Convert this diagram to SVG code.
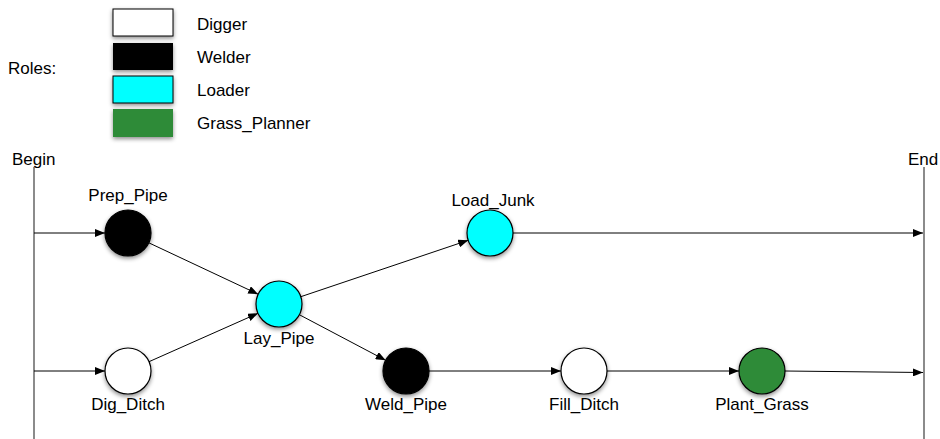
<svg xmlns="http://www.w3.org/2000/svg" width="940" height="439" viewBox="0 0 940 439">
<style>
text{font-family:"Liberation Sans",Arial,Helvetica,sans-serif;font-size:17px;fill:#000}
.lbl{text-anchor:middle}
.node{stroke:#000;stroke-width:1.2}
.edge{stroke:#000;stroke-width:1;fill:none;marker-end:url(#arr)}
.bar{stroke:#6e6e6e;stroke-width:1.6}
</style>
<defs>
<filter id="sh" x="-50%" y="-50%" width="200%" height="200%">
<feDropShadow dx="0" dy="2" stdDeviation="2" flood-color="#000" flood-opacity="0.45"/>
</filter>
<marker id="arr" markerUnits="userSpaceOnUse" markerWidth="11" markerHeight="8" refX="10" refY="4" orient="auto">
<path d="M0,0 L10,4 L0,8 z" fill="#000"/>
</marker>
</defs>
<g id="legend">
<text x="8" y="74">Roles:</text>
<rect x="113" y="9" width="60" height="27" fill="#fff" stroke="#000" stroke-width="1" filter="url(#sh)"/>
<text x="197" y="30">Digger</text>
<rect x="113" y="43" width="60" height="27" fill="#000" filter="url(#sh)"/>
<text x="197" y="63">Welder</text>
<rect x="113" y="76" width="60" height="27" fill="#00ffff" stroke="#000" stroke-width="1" filter="url(#sh)"/>
<text x="197" y="96">Loader</text>
<rect x="113" y="109" width="60" height="28" fill="#2e8b37" filter="url(#sh)"/>
<text x="197" y="129">Grass_Planner</text>
</g>
<g id="begin">
<line class="bar" x1="34" y1="167" x2="34" y2="439"/>
<text x="12" y="165">Begin</text>
</g>
<g id="end">
<line class="bar" x1="924" y1="167" x2="924" y2="439"/>
<text x="908" y="165">End</text>
</g>
<g id="connectors">
<line class="edge" x1="34" y1="233" x2="105" y2="233"/>
<line class="edge" x1="34" y1="371" x2="105" y2="371"/>
<line class="edge" x1="148.8" y1="242.8" x2="258.2" y2="294.2"/>
<line class="edge" x1="149" y1="361.7" x2="258" y2="313.3"/>
<line class="edge" x1="300.8" y1="296.7" x2="468.2" y2="240.3"/>
<line class="edge" x1="299.3" y1="314.7" x2="385.7" y2="360.3"/>
<line class="edge" x1="429" y1="371" x2="561" y2="371"/>
<line class="edge" x1="607" y1="371" x2="739" y2="371"/>
<line class="edge" x1="513" y1="233" x2="923" y2="233"/>
<line class="edge" x1="785" y1="371" x2="923" y2="372.5"/>
</g>
<g id="Prep_Pipe">
<circle class="node" cx="128" cy="233" r="23" fill="#000" filter="url(#sh)"/>
<text class="lbl" x="128" y="201">Prep_Pipe</text>
</g>
<g id="Dig_Ditch">
<circle class="node" cx="128" cy="371" r="23" fill="#fff" filter="url(#sh)"/>
<text class="lbl" x="128" y="410">Dig_Ditch</text>
</g>
<g id="Lay_Pipe">
<circle class="node" cx="279" cy="304" r="23" fill="#00ffff" filter="url(#sh)"/>
<text class="lbl" x="279" y="344">Lay_Pipe</text>
</g>
<g id="Load_Junk">
<circle class="node" cx="490" cy="233" r="23" fill="#00ffff" filter="url(#sh)"/>
<text class="lbl" x="493" y="206">Load_Junk</text>
</g>
<g id="Weld_Pipe">
<circle class="node" cx="406" cy="371" r="23" fill="#000" filter="url(#sh)"/>
<text class="lbl" x="406" y="410">Weld_Pipe</text>
</g>
<g id="Fill_Ditch">
<circle class="node" cx="584" cy="371" r="23" fill="#fff" filter="url(#sh)"/>
<text class="lbl" x="584" y="410">Fill_Ditch</text>
</g>
<g id="Plant_Grass">
<circle class="node" cx="762" cy="371" r="23" fill="#2e8b37" filter="url(#sh)"/>
<text class="lbl" x="762" y="410">Plant_Grass</text>
</g>
</svg>
